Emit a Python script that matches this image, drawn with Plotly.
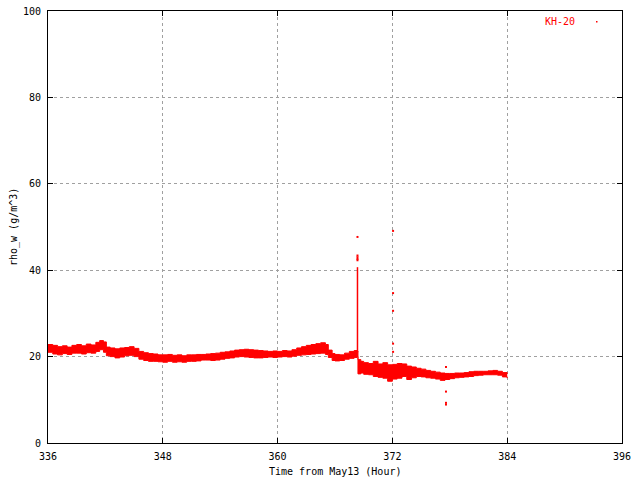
import plotly.graph_objects as go

# ---- data (hours from May13, rho_w in g/m^3) ----
hours = [336.0, 336.5, 337.0, 337.5, 338.0, 338.5, 339.0, 339.5, 340.0, 340.5,
         341.0, 341.4, 341.8, 342.1, 342.5, 343.0, 343.5, 344.0, 344.5, 345.0,
         345.5, 346.0, 346.5, 347.0, 347.5, 348.0, 348.5, 349.0, 349.5, 350.0,
         350.5, 351.0, 351.5, 352.0, 352.5, 353.0, 353.5, 354.0, 354.5, 355.0,
         355.5, 356.0, 356.5, 357.0, 357.5, 358.0, 358.5, 359.0, 359.5, 360.0,
         360.5, 361.0, 361.5, 362.0, 362.5, 363.0, 363.5, 364.0, 364.5, 365.0,
         365.3, 365.7, 366.0, 366.5, 367.0, 367.5, 368.0, 368.3, 368.4, 368.7,
         369.0, 369.5, 370.0, 370.5, 371.0, 371.5, 372.0, 372.5, 373.0, 373.5,
         374.0, 374.5, 375.0, 375.5, 376.0, 376.5, 377.0, 377.5, 378.0, 378.5,
         379.0, 379.5, 380.0, 380.5, 381.0, 381.5, 382.0, 382.5, 383.0, 383.5,
         384.0]
rho_low = [21.0, 20.6, 20.4, 20.7, 20.5, 20.8, 20.8, 20.6, 20.9, 20.8,
           21.2, 21.6, 21.0, 20.2, 20.0, 19.7, 19.9, 20.2, 20.3, 20.0,
           19.4, 19.1, 18.9, 18.9, 18.8, 18.7, 18.9, 18.7, 18.8, 18.7,
           18.9, 18.9, 19.0, 19.2, 19.2, 19.1, 19.2, 19.4, 19.6, 19.7,
           19.9, 20.0, 19.9, 19.8, 19.7, 19.7, 19.8, 19.9, 19.8, 19.9,
           20.0, 19.9, 20.1, 20.3, 20.4, 20.5, 20.6, 20.7, 20.8, 20.5,
           19.8, 19.1, 19.0, 19.1, 19.4, 19.6, 19.8, 20.0, 16.0, 16.2,
           15.9, 15.8, 15.4, 15.2, 15.0, 14.3, 14.8, 15.0, 15.4, 14.7,
           15.1, 15.4, 15.3, 15.1, 15.0, 14.8, 14.5, 14.7, 14.9, 15.1,
           15.2, 15.3, 15.4, 15.6, 15.7, 15.8, 15.8, 15.8, 15.7, 15.3,
           15.0]
rho_high = [22.8, 22.6, 22.3, 22.5, 22.2, 22.6, 22.8, 22.5, 22.9, 22.7,
            23.3, 23.7, 23.4, 22.2, 22.0, 21.8, 22.0, 22.1, 22.3, 21.9,
            21.2, 20.9, 20.7, 20.6, 20.4, 20.4, 20.5, 20.3, 20.4, 20.2,
            20.4, 20.4, 20.5, 20.5, 20.6, 20.7, 20.8, 21.0, 21.1, 21.3,
            21.5, 21.6, 21.7, 21.6, 21.5, 21.4, 21.3, 21.2, 21.3, 21.2,
            21.4, 21.3, 21.6, 22.0, 22.3, 22.6, 22.8, 23.0, 23.2, 22.8,
            21.5, 20.7, 20.5, 20.4, 20.8, 21.2, 21.4, 21.3, 19.3, 18.9,
            18.6, 18.4, 18.9, 18.3, 18.6, 18.1, 18.2, 18.4, 18.3, 17.8,
            17.6, 17.3, 17.1, 16.8, 16.6, 16.4, 16.2, 16.1, 16.1, 16.2,
            16.2, 16.3, 16.5, 16.6, 16.6, 16.6, 16.7, 16.8, 16.6, 16.3,
            16.0]

# spike near hour 368.35: continuous part and isolated dots above it
spike_hour = 368.35
spike_line = [21.0, 40.7]
spike_dots = [47.7, 43.4, 43.0, 42.6, 42.3]

# isolated outlier points
outlier_hours = [372.07, 372.07, 372.07, 372.07, 372.07, 377.6, 377.6, 377.6, 377.6]
outlier_vals = [49.1, 34.7, 30.6, 23.0, 21.1, 17.6, 11.9, 9.3, 8.9]

x_ticks = [336, 348, 360, 372, 384, 396]
y_ticks = [0, 20, 40, 60, 80, 100]

RED = "#ff0000"
FONT = "DejaVu Sans Mono"

fig = go.Figure()

# noisy band: lower edge then upper edge filled to it
fig.add_trace(go.Scatter(x=hours, y=rho_low, mode="lines",
                         line=dict(color=RED, width=1, shape="hv"),
                         hoverinfo="skip", showlegend=False))
fig.add_trace(go.Scatter(x=hours, y=rho_high, mode="lines",
                         line=dict(color=RED, width=1, shape="hv"),
                         fill="tonexty", fillcolor=RED,
                         hoverinfo="skip", showlegend=False))

fig.add_trace(go.Scatter(x=[spike_hour, spike_hour], y=spike_line, mode="lines",
                         line=dict(color=RED, width=1.5),
                         hoverinfo="skip", showlegend=False))
fig.add_trace(go.Scatter(x=[spike_hour] * len(spike_dots), y=spike_dots, mode="markers",
                         marker=dict(color=RED, size=2, symbol="square"),
                         hoverinfo="skip", showlegend=False))
fig.add_trace(go.Scatter(x=outlier_hours, y=outlier_vals, mode="markers",
                         marker=dict(color=RED, size=2, symbol="square"),
                         hoverinfo="skip", showlegend=False))

axis_style = dict(
    showline=True, linecolor="black", linewidth=1, mirror="ticks",
    ticks="inside", ticklen=5, tickcolor="black", tickwidth=1,
    showgrid=True, gridcolor="#a0a0a0", griddash="dot", gridwidth=1,
    zeroline=False, automargin=False,
    tickfont=dict(family=FONT, size=10, color="black"),
)

fig.update_xaxes(range=[336, 396], tickvals=x_ticks, ticklabelstandoff=4, **axis_style)
fig.update_yaxes(range=[0, 100], tickvals=y_ticks, ticklabelstandoff=4, **axis_style)

# plot area is 574 x 432 px starting at (48, 11)
def px_x(p):
    return (p - 48) / 574

def px_y(p):
    return (443 - p) / 432

# legend text and its sample point, gnuplot-style
fig.add_annotation(xref="x domain", yref="y domain", x=px_x(560), y=px_y(22),
                   xanchor="center", yanchor="middle",
                   text="KH-20", showarrow=False,
                   font=dict(family=FONT, size=10, color=RED))
fig.add_shape(type="rect", xref="x domain", yref="y domain",
              x0=px_x(596), x1=px_x(597.5), y0=px_y(22.5), y1=px_y(21),
              fillcolor=RED, line=dict(width=0))

fig.add_annotation(xref="x domain", yref="y domain", x=px_x(335), y=px_y(472),
                   xanchor="center", yanchor="middle",
                   text="Time from May13 (Hour)", showarrow=False,
                   font=dict(family=FONT, size=10, color="black"))
fig.add_annotation(xref="x domain", yref="y domain", x=px_x(14), y=px_y(227),
                   xanchor="center", yanchor="middle",
                   text="rho_w (g/m^3)", showarrow=False, textangle=-90,
                   font=dict(family=FONT, size=10, color="black"))

fig.update_layout(
    width=640, height=480,
    margin=dict(l=48, r=18, t=11, b=37, autoexpand=False),
    paper_bgcolor="white", plot_bgcolor="white",
    showlegend=False,
)

fig.write_html("out.html", config={"displayModeBar": False},
               post_script="document.body.style.margin='0px';")
